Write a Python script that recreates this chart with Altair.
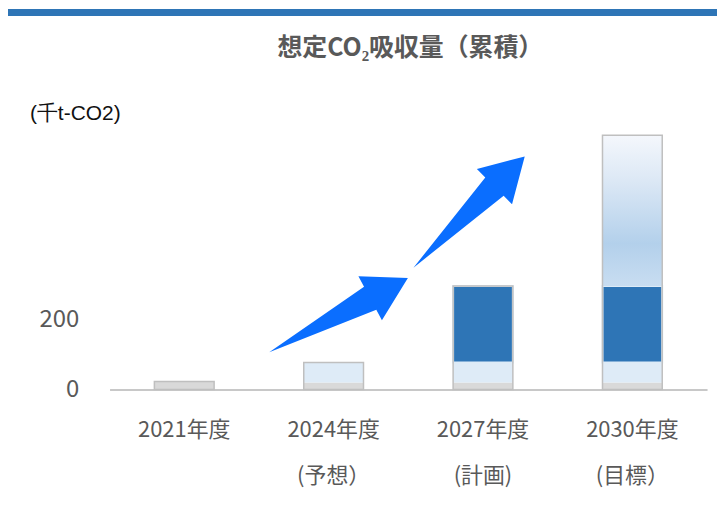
import altair as alt
import pandas as pd

# ---- data ----
years = ["2021年度", "2024年度\n(予想）", "2027年度\n(計画)", "2030年度\n(目標）"]
gray_seg = [23, 20, 20, 20]
light_seg = [0, 57, 57, 57]
dark_seg = [0, 0, 220, 220]
grad_seg = [0, 0, 0, 432]
y_ticks = [0, 200]
title_text = "想定CO₂吸収量（累積）"
unit_text = "(千t-CO2)"
# decorative arrows (centre position in category units 0..4 and value units, angle)
arrow_x = [1.533, 2.407]
arrow_y = [213, 509]
arrow_angle = [331.8, 315]

GRAY = "#D9D9D9"
LIGHT = "#DEEBF7"
DARK = "#2E75B6"
ARROW = "#0A6EFF"
TEXT = "#595959"
FONT = "Noto Sans CJK JP"

rows = []
for i, y in enumerate(years):
    start = 0
    for seg, vals in (("gray", gray_seg), ("light", light_seg), ("dark", dark_seg), ("grad", grad_seg)):
        v = vals[i]
        if v > 0:
            rows.append({"year": y, "seg": seg, "start": start, "end": start + v})
            start += v
seg_df = pd.DataFrame(rows)
tot_df = pd.DataFrame({"year": years,
                       "total": [g + l + d + r for g, l, d, r in zip(gray_seg, light_seg, dark_seg, grad_seg)],
                       "zero": [0] * len(years)})
arrow_df = pd.DataFrame({"ax": arrow_x, "ay": arrow_y, "ang": arrow_angle})

x_scale = alt.Scale(domain=years, paddingInner=0.6, paddingOuter=0.3)
x_enc = alt.X("year:N", scale=x_scale,
              axis=alt.Axis(title=None, labelAngle=0, labelExpr="split(datum.label, '\\n')",
                            labelFontSize=22, labelColor=TEXT, labelFont=FONT,
                            labelLineHeight=46, labelPadding=30, ticks=False,
                            domainColor="#C8C8C8", domainWidth=2))
y_scale = alt.Scale(domain=[0, 800], nice=False)
y_enc = alt.Y("start:Q", scale=y_scale,
              axis=alt.Axis(title=None, values=y_ticks, labelFontSize=24, labelColor=TEXT,
                            labelFont=FONT, labelPadding=31, ticks=False, domain=False, grid=False))

base = alt.Chart(seg_df)

solid = base.transform_filter("datum.seg == 'gray' || datum.seg == 'light'").mark_bar(strokeWidth=0).encode(
    x=x_enc, y=y_enc, y2="end:Q",
    color=alt.Color("seg:N", scale=alt.Scale(domain=["gray", "light"], range=[GRAY, LIGHT]), legend=None))

dark = base.transform_filter("datum.seg == 'dark'").mark_bar(
    color=DARK, stroke="#DDEBF7", strokeWidth=2).encode(x=x_enc, y=y_enc, y2="end:Q")

grad = base.transform_filter("datum.seg == 'grad'").mark_bar(
    color=alt.Gradient(gradient="linear",
                       stops=[alt.GradientStop(offset=0, color="#F4F7FC"),
                              alt.GradientStop(offset=0.3, color="#DCE8F5"),
                              alt.GradientStop(offset=0.72, color="#B3D0EB"),
                              alt.GradientStop(offset=1, color="#C8DDF1")],
                       x1=0, x2=0, y1=0, y2=1),
    strokeWidth=0).encode(x=x_enc, y=y_enc, y2="end:Q")

outline = alt.Chart(tot_df).mark_bar(fillOpacity=0, stroke="#BFBFBF", strokeWidth=1.5).encode(
    x=x_enc, y=alt.Y("zero:Q", scale=y_scale), y2="total:Q")

bars = alt.layer(solid, dark, grad, outline)

arrow_path = "M -1 0 L 0.456 -0.165 L 0.456 -0.316 L 1 0 L 0.456 0.316 L 0.456 0.165 Z"
arrows = alt.Chart(arrow_df).mark_point(shape=arrow_path, size=24964, filled=True,
                                        color=ARROW, opacity=1, strokeWidth=0).encode(
    x=alt.X("ax:Q", scale=alt.Scale(domain=[0, 4], nice=False, zero=False), axis=None),
    y=alt.Y("ay:Q", scale=y_scale),
    angle=alt.Angle("ang:Q", scale=None))

title = alt.Chart(pd.DataFrame({"t": [title_text]})).mark_text(
    font=FONT, fontSize=25, fontWeight="bold", color=TEXT, align="center", baseline="middle").encode(
    text="t:N", x=alt.value(302), y=alt.value(-63))

unit = alt.Chart(pd.DataFrame({"t": [unit_text]})).mark_text(
    font="Liberation Sans", fontSize=21, color="#111111", align="left", baseline="middle").encode(
    text="t:N", x=alt.value(-80), y=alt.value(3))

band = alt.Chart(pd.DataFrame({"k": [0]})).mark_rect(color=DARK).encode(
    x=alt.value(-102), x2=alt.value(615), y=alt.value(-102), y2=alt.value(-95))

chart = alt.layer(band, bars, arrows, title, unit).resolve_scale(
    x="independent").properties(
    width=600, height=280,
    autosize=alt.AutoSizeParams(type="none"),
    padding={"left": 102, "top": 102, "right": 10, "bottom": 110},
).configure_view(stroke=None)

chart.save("out.html", embed_options={"renderer": "svg", "actions": False})
